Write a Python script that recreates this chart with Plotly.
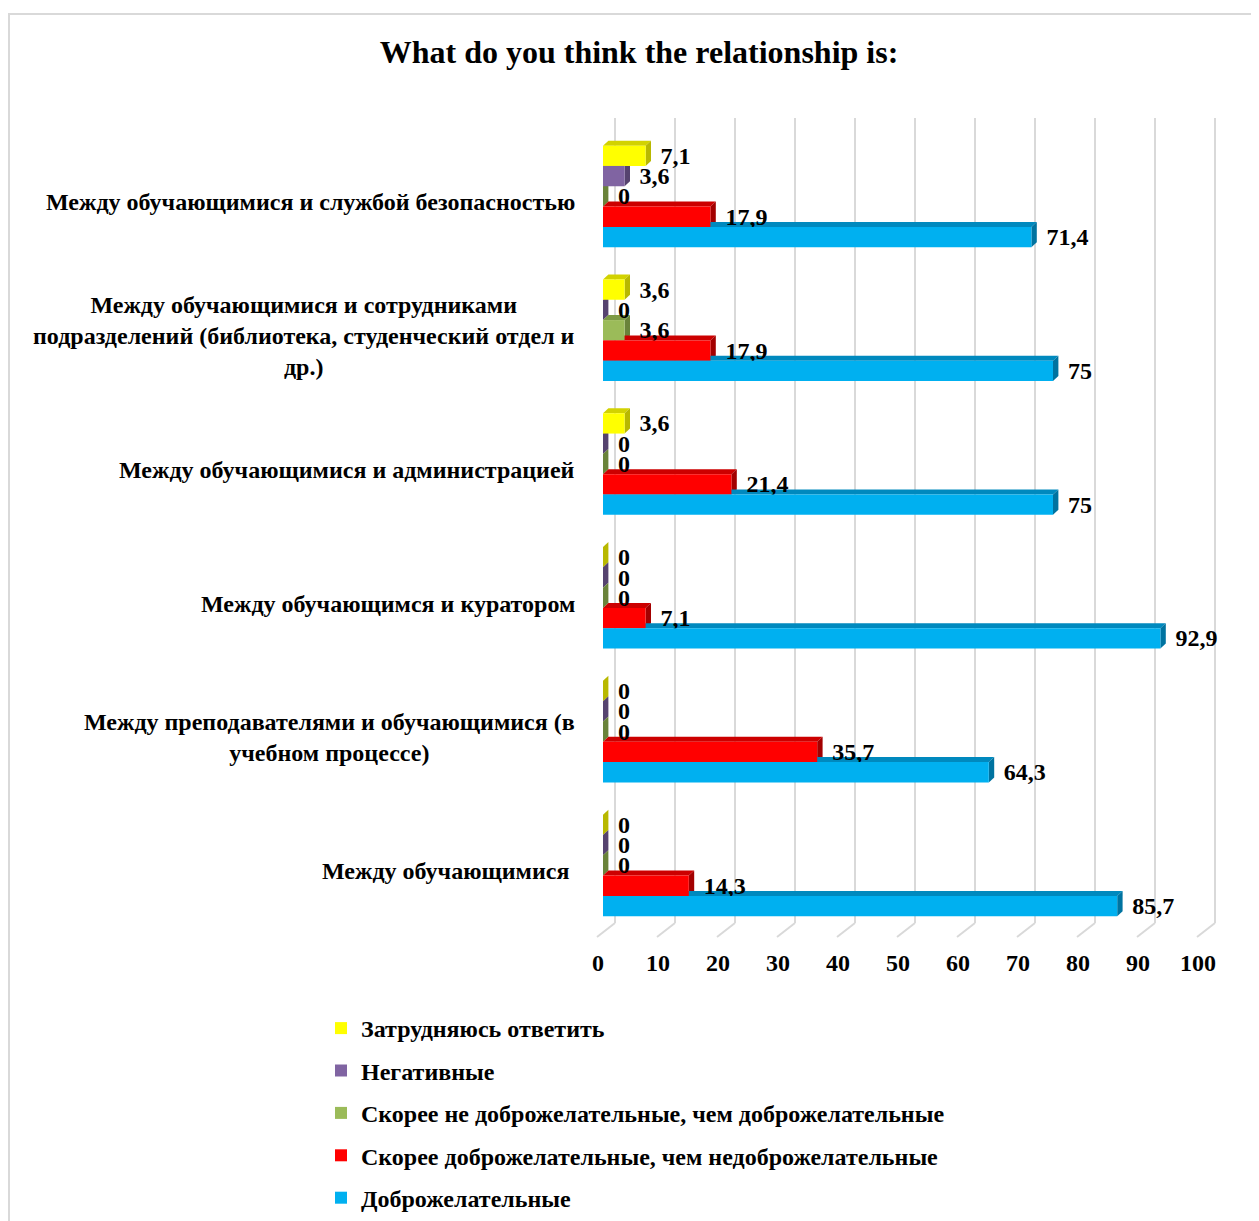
import plotly.graph_objects as go

# ---------------- data ----------------
categories = [
    "Между обучающимися и службой безопасностью",
    "Между обучающимися и сотрудниками<br>подразделений (библиотека, студенческий отдел и<br>др.)",
    "Между обучающимися и администрацией",
    "Между обучающимся и куратором",
    "Между преподавателями и обучающимися (в<br>учебном процессе)",
    "Между обучающимися\u00a0",
]
series_names = [
    "Затрудняюсь ответить",
    "Негативные",
    "Скорее не доброжелательные, чем доброжелательные",
    "Скорее доброжелательные, чем недоброжелательные",
    "Доброжелательные",
]
hard_to_say = [7.1, 3.6, 3.6, 0, 0, 0]
negative = [3.6, 0, 0, 0, 0, 0]
rather_unfriendly = [0, 3.6, 0, 0, 0, 0]
rather_friendly = [17.9, 17.9, 21.4, 7.1, 35.7, 14.3]
friendly = [71.4, 75, 75, 92.9, 64.3, 85.7]
tick_values = list(range(0, 101, 10))

series_values = [hard_to_say, negative, rather_unfriendly, rather_friendly, friendly]

# ---------------- style ----------------
face_colors = ["#FFFF00", "#8064A2", "#9BBB59", "#FF0000", "#00B0F0"]
top_colors = ["#D2D200", "#65508A", "#7D9A45", "#CC0000", "#0089BE"]
side_colors = ["#B8B800", "#56436F", "#6A833A", "#A30000", "#0073A0"]
FONT = "Liberation Serif"
FS = 24
OFF = 8  # page body margin

W, H = 1259, 1221
L = 594 - OFF
T = 118 - OFF
plot_right = 1218 - OFF
plot_bottom = 923 - OFF
R = W - plot_right
B = H - plot_bottom
plot_w = plot_right - L
plot_h = plot_bottom - T
x_range = [-1.5, 102.5]
y_range = [5.430, -0.586]
bargap = 0.241
n_series = len(series_names)

fig = go.Figure()

positions = list(range(len(categories)))
for name, vals, col in zip(series_names, series_values, face_colors):
    fig.add_trace(go.Bar(
        y=positions, x=vals, orientation="h", name=name,
        marker=dict(color=col, line=dict(width=0)),
        text=["\u00a0\u00a0" + f"{v:g}".replace(".", ",") for v in vals],
        textposition="outside", cliponaxis=False, constraintext="none",
        textfont=dict(family=FONT, size=FS, color="black", weight="bold"),
        legendgroup=name, hoverinfo="skip",
    ))

# invisible helper traces for the offset grid axis and the label axis
fig.add_trace(go.Scatter(x=[None], y=[None], xaxis="x2", showlegend=False, hoverinfo="skip"))
fig.add_trace(go.Scatter(x=[None], y=[None], xaxis="x3", showlegend=False, hoverinfo="skip"))

# 3D faces (top and right side) of each bar, derived from the data
bw = (1 - bargap) / n_series
dx = 0.9
dy = 5 / (plot_h / (y_range[0] - y_range[1]))
shapes = []
for j, vals in enumerate(series_values):
    for i, v in enumerate(vals):
        c = positions[i] - (1 - bargap) / 2 + (j + 0.5) * bw
        top = c - bw / 2
        bot = c + bw / 2
        shapes.append(dict(
            type="path", xref="x", yref="y", layer="between",
            path=f"M0,{top} L{v},{top} L{v+dx},{top-dy} L{dx},{top-dy} Z",
            fillcolor=top_colors[j], line=dict(width=0)))
        shapes.append(dict(
            type="path", xref="x", yref="y", layer="between",
            path=f"M{v},{top} L{v+dx},{top-dy} L{v+dx},{bot-dy} L{v},{bot} Z",
            fillcolor=side_colors[j], line=dict(width=0)))

# floor perspective lines under each gridline
for v in tick_values:
    shapes.append(dict(type="line", xref="x2", yref="paper",
                       x0=v, y0=0, x1=v - 3, y1=-14 / plot_h,
                       line=dict(color="#D9D9D9", width=2), layer="below"))

# outer chart border
shapes.append(dict(type="rect", xref="paper", yref="paper",
                   x0=(9 - OFF - L) / plot_w, x1=(W + 20 - L) / plot_w,
                   y0=(plot_bottom - (H + 20)) / plot_h, y1=1 + (T - (14 - OFF)) / plot_h,
                   line=dict(color="#D9D9D9", width=2), fillcolor="rgba(0,0,0,0)",
                   layer="below"))

annotations = []
for i, cat in enumerate(categories):
    annotations.append(dict(
        text=cat, xref="paper", yref="y", x=(577 - OFF - L) / plot_w, y=positions[i],
        xanchor="right", yanchor="middle", align="center", showarrow=False,
        yshift=-6, font=dict(family=FONT, size=FS, color="black", weight="bold")))

fig.update_layout(
    width=W, height=H,
    margin=dict(l=L, r=R, t=T, b=B, autoexpand=False),
    paper_bgcolor="white", plot_bgcolor="white",
    font=dict(family=FONT, size=FS, color="black", weight="bold"),
    title=dict(text="What do you think the relationship is:",
               x=631 / W, xref="container", xanchor="center",
               y=1 - 44 / H, yref="container", yanchor="middle",
               font=dict(family=FONT, size=32, color="black", weight="bold")),
    barmode="group", bargap=bargap, bargroupgap=0,
    xaxis=dict(range=x_range, showgrid=False, zeroline=False, showticklabels=False,
               showline=False, fixedrange=True),
    xaxis2=dict(range=[x_range[0] - 2, x_range[1] - 2], overlaying="x",
                tickvals=tick_values, showgrid=True, gridcolor="#D9D9D9", gridwidth=2,
                showticklabels=False, zeroline=False, showline=False),
    xaxis3=dict(range=[x_range[0] + 5 / 6, x_range[1] + 5 / 6], overlaying="x",
                side="bottom", tickvals=tick_values, showgrid=False, zeroline=False,
                showline=False, ticks="", ticklabelstandoff=23, tickangle=0,
                tickfont=dict(family=FONT, size=FS, color="black", weight="bold")),
    yaxis=dict(range=y_range, showgrid=False, zeroline=False, showticklabels=False,
               showline=False),
    legend=dict(xref="container", yref="container", x=313 / W, y=1 - 998 / H,
                xanchor="left", yanchor="top", traceorder="grouped",
                tracegroupgap=8.2, bgcolor="rgba(0,0,0,0)",
                font=dict(family=FONT, size=FS, color="black", weight="bold")),
    shapes=shapes,
    annotations=annotations,
    showlegend=True,
)

fig.write_html("out.html")
